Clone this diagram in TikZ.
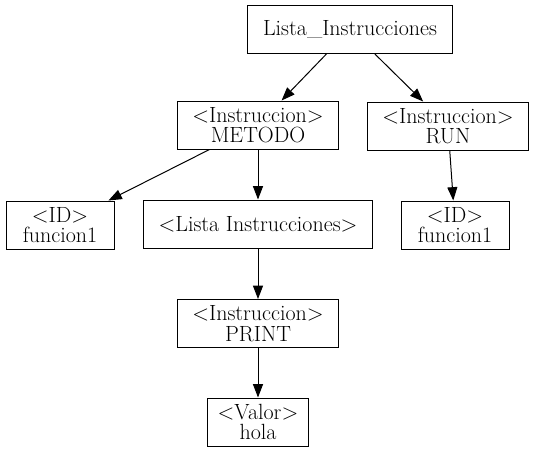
\documentclass[tikz,border=0pt]{standalone}
\usepackage{fontspec}
\usetikzlibrary{arrows.meta}
\begin{document}
\begin{tikzpicture}[x=0.75pt,y=-0.75pt,
  box/.style={draw=black,line width=0.75pt,rectangle,align=center,inner xsep=11.3pt,inner ysep=2pt,minimum height=36pt,font=\fontsize{16.5pt}{15.5pt}\selectfont},
  idbox/.style={box,minimum width=81pt},
  conn/.style={draw=black,line width=0.75pt,-{Triangle[length=10pt,width=7.5pt]}}]
\useasboundingbox (0,0) rectangle (535,453);
\node[box] (lista) at (350,29.5) {Lista\_Instrucciones};
\node[box] (metodo) at (258,125) {\textless Instruccion\textgreater\\METODO};
\node[box] (run) at (448,126) {\textless Instruccion\textgreater\\RUN};
\node[idbox] (id1) at (60,225) {\textless ID\textgreater\\funcion1};
\node[box] (li) at (258,224) {\textless Lista Instrucciones\textgreater};
\node[idbox] (id2) at (455,225) {\textless ID\textgreater\\funcion1};
\node[box] (print) at (258,323.5) {\textless Instruccion\textgreater\\PRINT};
\node[box,inner xsep=7.5pt] (valor) at (258,422) {\textless Valor\textgreater\\hola};
\draw[conn] (lista) -- (metodo);
\draw[conn] (lista) -- (run);
\draw[conn] (metodo) -- (id1);
\draw[conn] (metodo) -- (li);
\draw[conn] (run) -- (id2);
\draw[conn] (li) -- (print);
\draw[conn] (print) -- (valor);
\end{tikzpicture}
\end{document}
